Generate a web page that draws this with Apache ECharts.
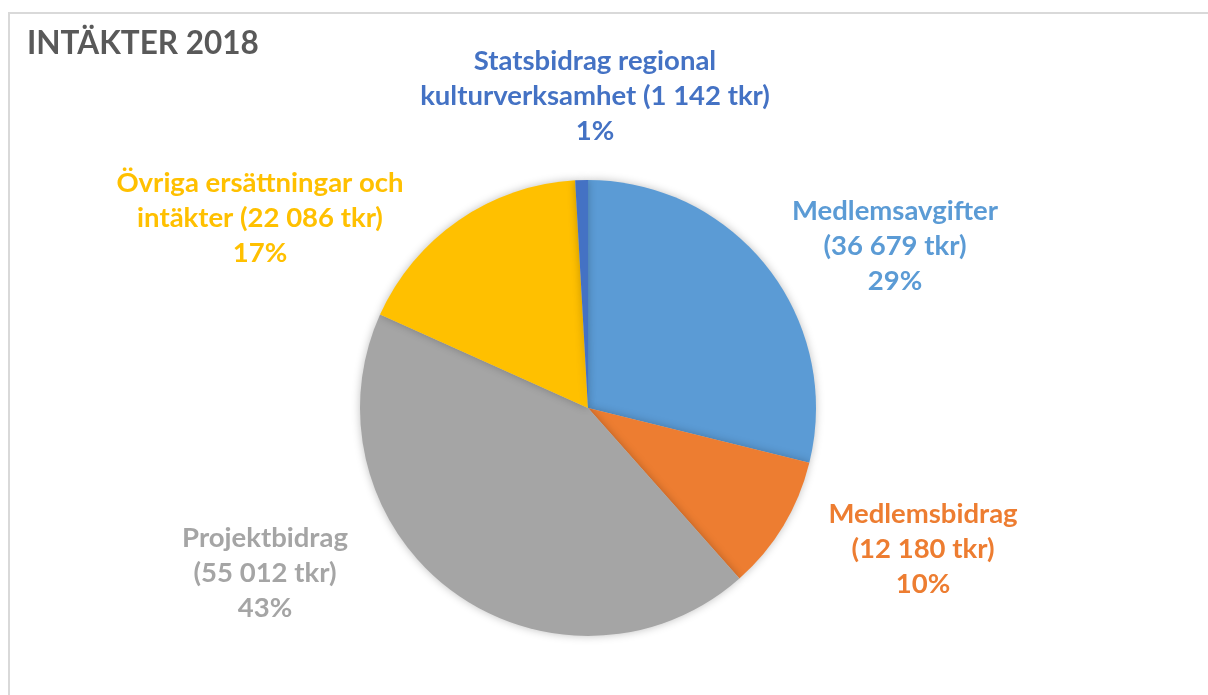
<!DOCTYPE html>
<html>
<head>
<meta charset="utf-8">
<script src="https://cdn.jsdelivr.net/npm/echarts@6/dist/echarts.min.js"></script>
<style>
  html, body { margin: 0; padding: 0; background: #fff; }
  #chart { width: 1208px; height: 695px; }
</style>
</head>
<body>
<div id="chart"></div>
<script>
// data
const names = ['Medlemsavgifter', 'Medlemsbidrag', 'Projektbidrag', 'Övriga ersättningar och intäkter', 'Statsbidrag regional kulturverksamhet'];
const labelHeads = ['Medlemsavgifter\n', 'Medlemsbidrag\n', 'Projektbidrag\n', 'Övriga ersättningar och\nintäkter ', 'Statsbidrag regional\nkulturverksamhet '];
const values = [36679, 12180, 55012, 22086, 1142];
const colors = ['#5B9BD5', '#ED7D31', '#A5A5A5', '#FFC000', '#4472C4'];

const chart = echarts.init(document.getElementById('chart'));

// label anchor points (centre of text block)
const labelPos = [[895, 246], [923, 549], [265, 573], [260, 218], [595, 96]];

function fmt(n) {
  return String(n).replace(/\B(?=(\d{3})+(?!\d))/g, ' ');
}

const option = {
  animation: false,
  title: {
    text: 'INTÄKTER 2018',
    left: 22,
    top: 23,
    textStyle: { fontFamily: 'Lato', fontWeight: 'bold', fontSize: 31.5, color: '#595959' }
  },
  graphic: [{
    type: 'rect',
    shape: { x: 9, y: 13, width: 1300, height: 800 },
    style: { fill: 'none', stroke: '#d9d9d9', lineWidth: 2 },
    silent: true
  }],
  series: [{
    type: 'pie',
    center: [588, 408],
    radius: 228,
    startAngle: 90,
    clockwise: true,
    itemStyle: { shadowBlur: 8, shadowColor: 'rgba(0,0,0,0.25)' },
    labelLine: { show: false },
    label: {
      show: true,
      position: 'outside',
      fontFamily: 'Lato',
      fontWeight: 'bold',
      fontSize: 27.5,
      lineHeight: 35,
      align: 'center',
      formatter: (p) => labelHeads[p.dataIndex] + '(' + fmt(p.value) + ' tkr)\n' + Math.round(p.percent) + '%'
    },
    labelLayout: (p) => ({
      x: labelPos[p.dataIndex][0],
      y: labelPos[p.dataIndex][1],
      align: 'center',
      verticalAlign: 'middle'
    }),
    data: names.map((n, i) => ({
      name: n,
      value: values[i],
      itemStyle: { color: colors[i] },
      label: { color: colors[i] }
    }))
  }]
};

chart.setOption(option);
</script>
</body>
</html>
